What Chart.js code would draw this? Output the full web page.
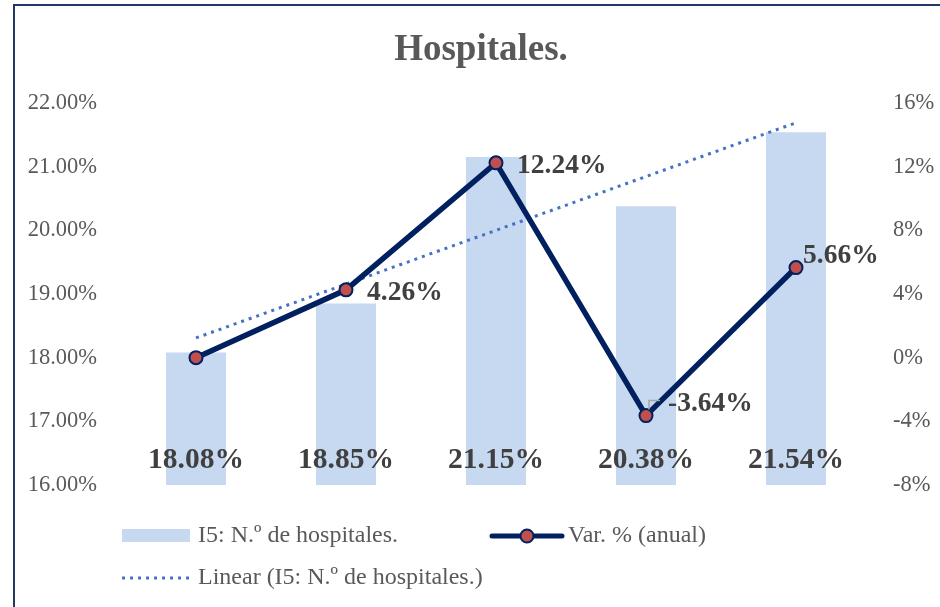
<!DOCTYPE html>
<html>
<head>
<meta charset="utf-8">
<script src="https://cdn.jsdelivr.net/npm/chart.js@4.4.0/dist/chart.umd.min.js"></script>
<style>
  html, body { margin: 0; padding: 0; background: #fff; overflow: hidden; }
  #wrap { position: relative; width: 940px; height: 607px; }
  #frame { position: absolute; left: 13px; top: 4px; width: 1000px; height: 700px;
           border-left: 2px solid #1f3864; border-top: 2px solid #1f3864; }
  canvas { position: absolute; left: 0; top: 0; }
</style>
</head>
<body>
<div id="wrap">
  <div id="frame"></div>
  <canvas id="chart" width="940" height="607"></canvas>
</div>
<script>
// data
const categories = ["1", "2", "3", "4", "5"]
const hospitales = [18.08, 18.85, 21.15, 20.38, 21.54]
const varAnual = [0, 4.26, 12.24, -3.64, 5.66]
const trendEnds = [18.31, null, null, null, 21.69]

const serif = "'Liberation Serif', 'Times New Roman', serif"
const textGray = "#595959"
const labelGray = "#404040"
const navy = "#002060"

// where each line label sits, relative to its point (first point has no label)
const lineLabelOffsets = [null, [21, 3], [21, 3], [22, -12], [7, -12]]

const labelsPlugin = {
    id: "labels",
    afterDatasetsDraw(chart) {
        const ctx = chart.ctx
        ctx.save()
        ctx.fillStyle = labelGray
        ctx.font = "bold 29.5px " + serif
        ctx.textBaseline = "middle"
        // bar labels near the base
        ctx.textAlign = "center"
        chart.getDatasetMeta(2).data.forEach((bar, i) => {
            ctx.fillText(hospitales[i].toFixed(2) + "%", bar.x, 460)
        })
        // line labels
        ctx.textAlign = "left"
        ctx.font = "bold 27.5px " + serif
        chart.getDatasetMeta(0).data.forEach((pt, i) => {
            const off = lineLabelOffsets[i]
            if (!off) return
            ctx.fillText(varAnual[i].toFixed(2) + "%", pt.x + off[0], pt.y + off[1])
        })
        // small leader line on the -3.64% label
        const p = chart.getDatasetMeta(0).data[3]
        ctx.strokeStyle = "#a6a6a6"
        ctx.lineWidth = 1.5
        ctx.beginPath()
        ctx.moveTo(p.x + 3, p.y - 6)
        ctx.lineTo(p.x + 3, p.y - 15)
        ctx.lineTo(p.x + 14, p.y - 15)
        ctx.stroke()
        ctx.restore()
    },
    afterDraw(chart) {
        const ctx = chart.ctx
        ctx.save()
        // title
        ctx.fillStyle = textGray
        ctx.font = "bold 37px " + serif
        ctx.textAlign = "center"
        ctx.textBaseline = "middle"
        ctx.fillText("Hospitales.", 481, 50)
        // legend
        ctx.font = "24px " + serif
        ctx.textAlign = "left"
        ctx.fillStyle = "rgb(198,217,240)"
        ctx.fillRect(122, 529, 68, 13)
        ctx.fillStyle = textGray
        ctx.fillText("I5: N.º de hospitales.", 198, 536)

        ctx.strokeStyle = navy
        ctx.lineWidth = 5
        ctx.lineCap = "round"
        ctx.beginPath()
        ctx.moveTo(492, 536)
        ctx.lineTo(562, 536)
        ctx.stroke()
        ctx.beginPath()
        ctx.arc(527, 536, 6.5, 0, Math.PI * 2)
        ctx.fillStyle = "#c0504d"
        ctx.fill()
        ctx.lineWidth = 2
        ctx.stroke()
        ctx.fillStyle = textGray
        ctx.fillText("Var. % (anual)", 568, 536)

        ctx.strokeStyle = "#4472c4"
        ctx.lineWidth = 3
        ctx.lineCap = "butt"
        ctx.setLineDash([3, 5])
        ctx.beginPath()
        ctx.moveTo(122, 578)
        ctx.lineTo(190, 578)
        ctx.stroke()
        ctx.setLineDash([])
        ctx.fillText("Linear (I5: N.º de hospitales.)", 198, 578)
        ctx.restore()
    }
}

new Chart(document.getElementById("chart").getContext("2d"), {
    data: {
        labels: categories,
        datasets: [
            {
                type: "line",
                label: "Var. % (anual)",
                data: varAnual,
                yAxisID: "yRight",
                borderColor: navy,
                borderWidth: 5.5,
                pointRadius: 6.5,
                pointBackgroundColor: "#c0504d",
                pointBorderColor: navy,
                pointBorderWidth: 2,
                order: 0
            },
            {
                type: "line",
                label: "Linear (I5: N.º de hospitales.)",
                data: trendEnds,
                yAxisID: "yLeft",
                spanGaps: true,
                borderColor: "#4472c4",
                borderWidth: 3,
                borderDash: [3, 5],
                pointRadius: 0,
                order: 1
            },
            {
                type: "bar",
                label: "I5: N.º de hospitales.",
                data: hospitales,
                yAxisID: "yLeft",
                backgroundColor: "rgb(198,217,240)",
                categoryPercentage: 0.8,
                barPercentage: 0.5,
                order: 2
            }
        ]
    },
    options: {
        responsive: false,
        animation: false,
        layout: { padding: { top: 103, bottom: 122, left: 0, right: 0 } },
        plugins: { legend: { display: false }, title: { display: false }, tooltip: { enabled: false } },
        scales: {
            x: { display: false },
            yLeft: {
                position: "left",
                min: 16, max: 22,
                grid: { display: false, drawTicks: false },
                border: { display: false },
                ticks: {
                    stepSize: 1, padding: 24, color: textGray,
                    font: { family: serif, size: 22.5 },
                    callback: v => v.toFixed(2) + "%"
                },
                afterFit: s => { s.width = 121 }
            },
            yRight: {
                position: "right",
                min: -8, max: 16,
                grid: { display: false, drawTicks: false },
                border: { display: false },
                ticks: {
                    stepSize: 4, padding: 22, color: textGray,
                    font: { family: serif, size: 22.5 },
                    callback: v => v + "%"
                },
                afterFit: s => { s.width = 69 }
            }
        }
    },
    plugins: [labelsPlugin]
});
</script>
</body>
</html>
